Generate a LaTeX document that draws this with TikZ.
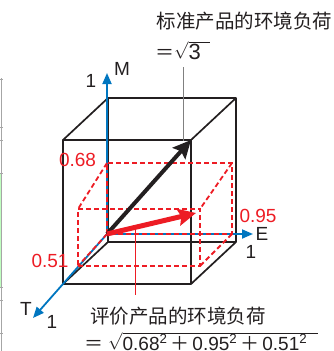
\documentclass[tikz,border=0pt]{standalone}
\usepackage{fontspec}
\setmainfont{Liberation Sans}
\newfontfamily\cjk{Noto Sans CJK SC}
\usetikzlibrary{arrows.meta}
\definecolor{axisblue}{RGB}{0,118,192}
\definecolor{loadred}{RGB}{237,28,36}
\definecolor{inkblack}{RGB}{35,31,32}
\newcommand\plussign{\hspace{3pt}{\cjk ＋}\hspace{3pt}}
\begin{document}
\begin{tikzpicture}[x=1pt,y=-1pt,
  every node/.style={font=\fontsize{19}{19}\selectfont,inner sep=0pt,text=inkblack},
  cube/.style={inkblack,line width=1.7pt,line join=round},
  box/.style={loadred,line width=1.8pt,dash pattern=on 5pt off 3pt},
  axis/.style={axisblue,line width=1.8pt,-{Triangle[length=11pt,width=9pt]}},
  load/.style={-{Stealth[length=18pt,width=17pt,inset=3pt]}}]
\useasboundingbox (0,0) rectangle (334,351);
\draw[gray!70,line width=0.6pt] (1.5,78) -- (1.5,351);
\fill[green!25] (0,174) rectangle (1.2,287);
\foreach \y in {79,127,140,173,287,300,333}
  \draw[gray!70,line width=0.5pt] (0,\y) -- (3,\y);
\foreach \n/\x/\y in {
  kbl/108/242, kbr/236/242, ktl/108/98, ktr/236/98,
  fbl/63/284, fbr/191/284, ftl/63/140, ftr/191/140,
  O/107/234, Mtip/107/73, Etip/253/234, Ttip/33/318,
  BM/107/163, BEM/232/163, BE/232/234,
  F0/78/266, FE/200/266, FEM/200/209, FM/78/209,
  redtip/196/213}
  \coordinate (\n) at (\x,\y);
\draw[cube] (ftl) rectangle (fbr);
\draw[cube] (fbl) -- (kbl) -- (ktl) -- (ktr) -- (kbr) -- (kbl);
\draw[cube] (ftl) -- (ktl);
\draw[cube] (ftr) -- (ktr);
\draw[cube] (fbr) -- (kbr);
\draw[axis] (O) -- (Mtip);
\draw[axis] (O) -- (Etip);
\draw[axis] (O) -- (Ttip);
\draw[box] (O) -- (BM) -- (BEM) -- (BE) -- (O);
\draw[box] (F0) -- (FE) -- (FEM) -- (FM) -- cycle;
\draw[box] (O) -- (F0) (BE) -- (FE) (BEM) -- (FEM) (BM) -- (FM);
\node[anchor=west,font=\cjk\fontsize{19.5}{19.5}\selectfont] (stdtitle) at (156.5,21) {标准产品的环境负荷};
\node[anchor=base west] (stdvalue) at (155,59) {{\cjk ＝}$\sqrt{\mbox{\fontsize{22}{22}\selectfont 3\hspace{9pt}}}$};
\coordinate (stdpin) at (183,67);
\coordinate (stdend) at (183,141);
\draw[gray,line width=0.9pt] (stdpin) -- (stdend);
\draw[load,inkblack,line width=4pt] (O) -- (ftr);
\draw[load,loadred,line width=5pt] (O) -- (redtip);
\coordinate (evalend) at (135,229);
\coordinate (evalpin) at (135,295);
\draw[loadred,line width=0.9pt] (evalend) -- (evalpin);
\foreach \x/\y/\name/\col/\txt in {
  122/69/lblM/inkblack/M,
  91/81/lblMone/inkblack/1,
  262/234/lblE/inkblack/E,
  251/251.5/lblEone/inkblack/1,
  26/308.5/lblT/inkblack/T,
  52/321.5/lblTone/inkblack/1,
  77.5/160/valM/loadred/0.68,
  258/215.5/valE/loadred/0.95,
  50/261/valT/loadred/0.51}
  \node[text=\col] (\name) at (\x,\y) {\txt};
\node[anchor=west,font=\cjk\fontsize{19.5}{19.5}\selectfont] (evaltitle) at (90,316.5) {评价产品的环境负荷};
\node[anchor=base west] (evalvalue) at (84,350) {{\cjk ＝}\hspace{5pt}$\sqrt{\mbox{0.68\textsuperscript{2}\plussign 0.95\textsuperscript{2}\plussign 0.51\textsuperscript{2}\hspace{11pt}}}$};
\end{tikzpicture}
\end{document}
